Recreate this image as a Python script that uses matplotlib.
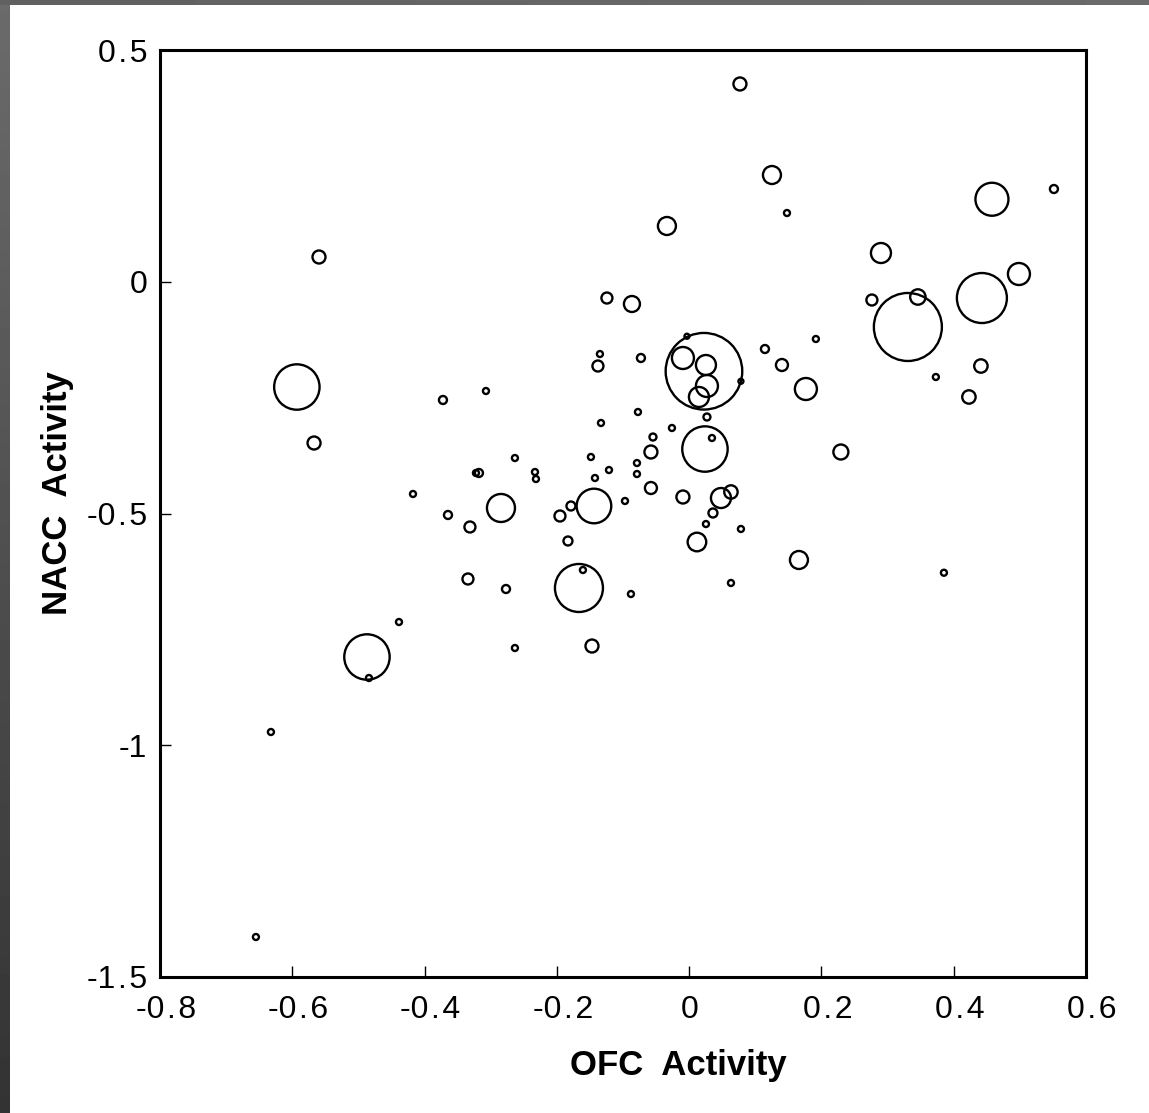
import numpy as np
import matplotlib
matplotlib.use('Agg')
import matplotlib.pyplot as plt
from matplotlib.transforms import ScaledTranslation

plt.rcParams['font.family'] = ['Liberation Sans', 'DejaVu Sans']

# OFC / NACC activity per point, and bubble weight
ofc = [0.0768, 0.1252, 0.1479, 0.5515, 0.4578, -0.0336, 0.2900, -0.5596, 0.4986, 0.4426,
       0.3458, 0.2763, -0.1243, -0.0865, 0.3307, 0.1916, -0.0033, 0.0224, 0.0783, -0.0094,
       0.0254, 0.0269, 0.0148, -0.1349, -0.1379, -0.0729, 0.1146, 0.1403, 0.1765, 0.3730,
       0.4411, 0.4230, -0.5931, -0.3072, -0.3722, -0.0774, -0.1333, 0.0269, -0.0260, -0.0547,
       0.0239, 0.0345, -0.5671, 0.2294, -0.0578, -0.1485, -0.2634, -0.0789, -0.1212, -0.0789,
       -0.1424, -0.3223, -0.3178, -0.2331, -0.2316, -0.0578, -0.0094, 0.0481, 0.0632, -0.0970,
       -0.4175, -0.2845, -0.3646, -0.3314, -0.1787, -0.1953, -0.1439, -0.1832, 0.0360, 0.0254,
       0.0783, 0.0118, 0.1660, 0.0632, 0.3852, -0.3344, -0.2769, -0.1666, -0.1606, -0.0880,
       -0.4387, -0.2634, -0.1469, -0.4871, -0.4841, -0.6323, -0.6550]
nacc = [0.4267, 0.2303, 0.1483, 0.2001, 0.1780, 0.1203, 0.0620, 0.0534, 0.0167, -0.0351,
        -0.0329, -0.0394, -0.0351, -0.0480, -0.0976, -0.1235, -0.1176, -0.1931, -0.2147, -0.1645,
        -0.1796, -0.2249, -0.2486, -0.1559, -0.1818, -0.1645, -0.1451, -0.1796, -0.2314, -0.2055,
        -0.1818, -0.2486, -0.2271, -0.2357, -0.2551, -0.2810, -0.3047, -0.2918, -0.3155, -0.3350,
        -0.3609, -0.3371, -0.3479, -0.3673, -0.3673, -0.3781, -0.3803, -0.3911, -0.4062, -0.4148,
        -0.4234, -0.4126, -0.4126, -0.4105, -0.4256, -0.4450, -0.4644, -0.4666, -0.4536, -0.4730,
        -0.4579, -0.4881, -0.5032, -0.5291, -0.4838, -0.5054, -0.4838, -0.5593, -0.4989, -0.5227,
        -0.5334, -0.5615, -0.6003, -0.6499, -0.6278, -0.6413, -0.6629, -0.6607, -0.6219, -0.6737,
        -0.7341, -0.7902, -0.7859, -0.8096, -0.8549, -0.9714, -1.4137]
weight = [6.5, 9, 3, 4, 16.5, 9, 10, 6.5, 11, 25,
          7.7, 5.5, 5.5, 8, 34, 3, 2.5, 38.3, 2.5, 11,
          10, 11, 10, 3, 5.5, 4, 4, 6, 11, 3,
          6.7, 6.7, 22.7, 3, 4, 3, 3, 3.5, 3, 3.5,
          22.7, 3, 6.5, 7.5, 6.5, 3, 3, 3, 3, 3,
          3, 3, 4, 3, 3, 6, 6.5, 10, 6.7, 3,
          3, 14, 4, 5.5, 4.5, 5.5, 17.3, 4.5, 4.5, 3,
          3, 9.3, 9, 3, 3, 5.5, 4, 24, 3, 3,
          3, 3, 6.5, 22.7, 3, 3, 3]

xticks = [-0.8, -0.6, -0.4, -0.2, 0, 0.2, 0.4, 0.6]
yticks = [0.5, 0, -0.5, -1, -1.5]


def spaced(t):
    # the original labels have a little extra room around the decimal point
    return f'{t:g}'.replace('.', '\u200a.\u200a')


W, H, DPI = 1149, 1113, 100
fig = plt.figure(figsize=(W / DPI, H / DPI), dpi=DPI, facecolor='white')

# gray frame strips along the left and top edges
strip = fig.add_axes([0, 0, 10 / W, 1])
grad = np.linspace(0.42, 0.2, 200).reshape(-1, 1)
strip.imshow(grad, cmap='gray', vmin=0, vmax=1, aspect='auto', extent=[0, 1, 0, 1])
strip.axis('off')
top = fig.add_axes([0, 1 - 5 / H, 1, 5 / H])
top.imshow(np.linspace(0.38, 0.42, 200).reshape(1, -1), cmap='gray', vmin=0, vmax=1,
           aspect='auto', extent=[0, 1, 0, 1])
top.axis('off')

ax = fig.add_axes([160 / W, 1 - 977 / H, 926 / W, 927 / H])

# bubble weight -> marker area (points^2)
px_to_pt = 72 / DPI
sizes = [(2 * w * px_to_pt) ** 2 for w in weight]
ax.scatter(ofc, nacc, s=sizes, facecolors='none', edgecolors='black', linewidths=1.7)

ax.set_xlim(-0.8, 0.6)
ax.set_ylim(-1.5, 0.5)
ax.set_xticks(xticks)
ax.set_xticklabels([spaced(t) for t in xticks])
ax.set_yticks(yticks)
ax.set_yticklabels([spaced(t) for t in yticks])
ax.tick_params(direction='in', length=8, width=1, labelsize=23, top=False, right=False)
ax.tick_params(axis='x', pad=13)
ax.tick_params(axis='y', pad=9)
# non-zero x labels sit slightly right of their ticks in the original
shift = ScaledTranslation(6 / DPI, 0, fig.dpi_scale_trans)
for t, lab in zip(xticks, ax.get_xticklabels()):
    if t != 0:
        lab.set_transform(lab.get_transform() + shift)
for sp in ax.spines.values():
    sp.set_linewidth(2.2)

ax.set_xlabel('OFC  Activity', fontsize=25, fontweight='bold')
ax.xaxis.set_label_coords(0.5594, -0.096)
ax.xaxis.label.set_va('center')
ax.set_ylabel('NACC  Activity', fontsize=25, fontweight='bold')
ax.yaxis.set_label_coords(-0.1102, 0.5221)
ax.yaxis.label.set_va('center')

fig.savefig('out.png', dpi=DPI, facecolor='white')
